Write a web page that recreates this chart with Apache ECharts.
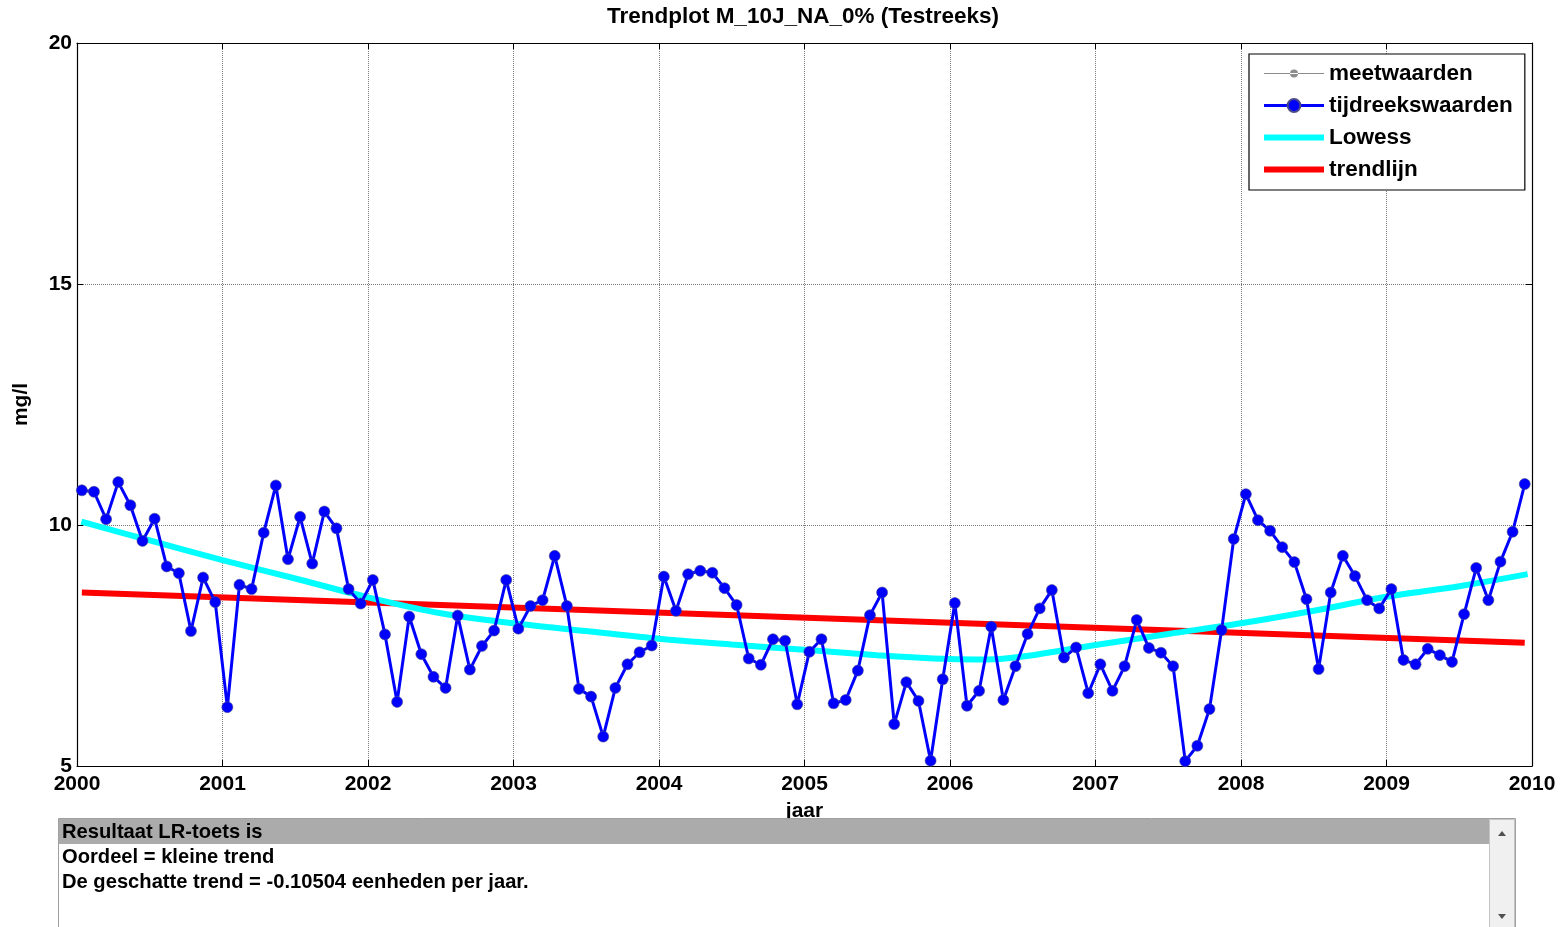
<!DOCTYPE html>
<html>
<head>
<meta charset="utf-8">
<title>Trendplot M_10J_NA_0% (Testreeks)</title>
<script src="https://cdn.jsdelivr.net/npm/echarts@6/dist/echarts.min.js"></script>
<style>
  html, body { margin: 0; padding: 0; background: #ffffff; }
  #chart { width: 1565px; height: 927px; }
</style>
</head>
<body>
<div id="chart"></div>
<script>
// Monthly series, 2000-01 .. 2009-12 (mg/l)
const years = [2000, 2001, 2002, 2003, 2004, 2005, 2006, 2007, 2008, 2009];

const measured = [
  10.72, 10.69, 10.12, 10.89, 10.41, 9.67, 10.13, 9.14, 9.00, 7.80, 8.91, 8.40,   // 2000
  6.22, 8.76, 8.67, 9.84, 10.82, 9.29, 10.17, 9.20, 10.28, 9.93, 8.67, 8.37,      // 2001
  8.86, 7.73, 6.33, 8.10, 7.32, 6.85, 6.62, 8.12, 7.00, 7.49, 7.81, 8.86,         // 2002
  7.85, 8.32, 8.44, 9.36, 8.32, 6.60, 6.44, 5.61, 6.62, 7.11, 7.36, 7.50,         // 2003
  8.93, 8.22, 8.98, 9.05, 9.01, 8.69, 8.34, 7.23, 7.10, 7.63, 7.60, 6.28,         // 2004
  7.37, 7.63, 6.30, 6.37, 6.98, 8.13, 8.60, 5.87, 6.74, 6.35, 5.11, 6.80,         // 2005
  8.38, 6.25, 6.56, 7.89, 6.37, 7.07, 7.74, 8.27, 8.65, 7.25, 7.46, 6.51,         // 2006
  7.11, 6.56, 7.07, 8.03, 7.45, 7.35, 7.07, 5.10, 5.42, 6.18, 7.82, 9.71,         // 2007
  10.64, 10.10, 9.88, 9.54, 9.23, 8.46, 7.01, 8.60, 9.36, 8.94, 8.44, 8.27,       // 2008
  8.67, 7.20, 7.11, 7.43, 7.30, 7.16, 8.15, 9.11, 8.44, 9.24, 9.86, 10.85         // 2009
];

// Time series values equal the measurements in this series
const timeseries = measured.slice();

// Lowess smooth, sampled every half year
const lowessYears = [2000.03, 2000.5, 2001, 2001.5, 2002, 2002.5, 2003, 2003.5, 2004, 2004.5,
                     2005, 2005.5, 2006, 2006.25, 2006.5, 2007, 2007.5, 2008, 2008.5, 2009, 2009.5, 2009.97];
const lowessValues = [10.07, 9.68, 9.27, 8.89, 8.50, 8.17, 7.96, 7.80, 7.64, 7.52,
                      7.41, 7.30, 7.22, 7.21, 7.27, 7.51, 7.74, 7.96, 8.22, 8.51, 8.73, 8.98];

// Linear trend (LR test result)
const trendStart = 8.60;
const trendSlope = -0.10504;   // eenheden per jaar

const xTicks = [2000, 2001, 2002, 2003, 2004, 2005, 2006, 2007, 2008, 2009, 2010];
const yTicks = [5, 10, 15, 20];

const resultLines = [
  'Resultaat LR-toets is',
  'Oordeel = kleine trend',
  'De geschatte trend = -0.10504 eenheden per jaar.'
];

// sampling moment within each month (decimal year)
const monthTimes = [];
years.forEach(function (y) {
  for (let m = 0; m < 12; m++) monthTimes.push(y + (m + 0.4) / 12);
});

const measuredData = measured.map(function (v, i) { return [monthTimes[i], v]; });
const seriesData = timeseries.map(function (v, i) { return [monthTimes[i], v]; });
const lowessData = lowessValues.map(function (v, i) { return [lowessYears[i], v]; });
const t0 = monthTimes[0], t1 = monthTimes[monthTimes.length - 1];
const trendData = [[t0, trendStart], [t1, trendStart + trendSlope * (t1 - t0)]];

const FONT = '"Liberation Sans", Arial, sans-serif';

const chart = echarts.init(document.getElementById('chart'), null, { renderer: 'canvas' });

const axisLineStyle = { color: '#000', width: 1.2 };
const gridLine = { show: true, lineStyle: { color: '#7a7a7a', type: 'dotted', width: 1 } };

// legend glyph for the measurements: thin line with a small dot
const measIcon = 'path://M0,7.5H60V8.5H0Z M26,8a4,4 0 1,0 8,0a4,4 0 1,0 -8,0Z';

// result list rows (narrow bold face)
function resultText(i, y) {
  return {
    type: 'text', x: 62, y: y, z: 103, scaleX: 0.96,
    style: {
      text: resultLines[i], verticalAlign: 'middle',
      fontFamily: FONT, fontWeight: 'bold', fontSize: 21, fill: '#000'
    }
  };
}

const option = {
  animation: false,
  backgroundColor: '#ffffff',
  grid: { left: 77, right: 33, top: 43, bottom: 161, containLabel: false },
  legend: {
    orient: 'vertical',
    left: 1249,
    top: 54,
    padding: [8, 12, 9, 12],
    itemWidth: 60,
    itemHeight: 16,
    itemGap: 9,
    backgroundColor: '#ffffff',
    borderColor: '#000000',
    borderWidth: 1.2,
    borderRadius: 0,
    textStyle: { fontFamily: FONT, fontWeight: 'bold', fontSize: 22.5, color: '#000' },
    selectedMode: false,
    data: [
      { name: 'meetwaarden', icon: measIcon, itemStyle: { color: '#8c8c8c' } },
      { name: 'tijdreekswaarden', lineStyle: { width: 3 } },
      { name: 'Lowess', itemStyle: { opacity: 0 }, lineStyle: { width: 6 } },
      { name: 'trendlijn', itemStyle: { opacity: 0 }, lineStyle: { width: 6 } }
    ]
  },
  xAxis: [
    {
      type: 'value', min: xTicks[0], max: xTicks[xTicks.length - 1], interval: 1,
      position: 'bottom',
      axisLine: { show: true, onZero: false, lineStyle: axisLineStyle },
      axisTick: { show: true, inside: true, length: 6, lineStyle: { color: '#000' } },
      axisLabel: {
        color: '#000', fontFamily: FONT, fontWeight: 'bold', fontSize: 21, margin: 8,
        formatter: function (v) { return String(v); }
      },
      splitLine: gridLine,
      name: 'jaar', nameLocation: 'middle', nameGap: 35,
      nameTextStyle: { color: '#000', fontFamily: FONT, fontWeight: 'bold', fontSize: 21 }
    },
    {
      type: 'value', min: xTicks[0], max: xTicks[xTicks.length - 1], interval: 1,
      position: 'top',
      axisLine: { show: true, onZero: false, lineStyle: axisLineStyle },
      axisTick: { show: true, inside: true, length: 6, lineStyle: { color: '#000' } },
      axisLabel: { show: false },
      splitLine: { show: false }
    }
  ],
  yAxis: [
    {
      type: 'value', min: yTicks[0], max: yTicks[yTicks.length - 1], interval: 5,
      position: 'left',
      axisLine: { show: true, onZero: false, lineStyle: axisLineStyle },
      axisTick: { show: true, inside: true, length: 6, lineStyle: { color: '#000' } },
      axisLabel: { color: '#000', fontFamily: FONT, fontWeight: 'bold', fontSize: 21, margin: 5 },
      splitLine: gridLine,
      name: 'mg/l', nameLocation: 'middle', nameGap: 45, nameRotate: 90,
      nameTextStyle: { color: '#000', fontFamily: FONT, fontWeight: 'bold', fontSize: 21 }
    },
    {
      type: 'value', min: yTicks[0], max: yTicks[yTicks.length - 1], interval: 5,
      position: 'right',
      axisLine: { show: true, onZero: false, lineStyle: axisLineStyle },
      axisTick: { show: true, inside: true, length: 6, lineStyle: { color: '#000' } },
      axisLabel: { show: false },
      splitLine: { show: false }
    }
  ],
  series: [
    {
      name: 'trendlijn', type: 'line', data: trendData,
      symbol: 'none', color: '#ff0000',
      lineStyle: { color: '#ff0000', width: 6 },
      z: 2, silent: true
    },
    {
      name: 'Lowess', type: 'line', data: lowessData,
      symbol: 'none', color: '#00ffff', smooth: 0.3,
      lineStyle: { color: '#00ffff', width: 6 },
      z: 3, silent: true
    },
    {
      name: 'meetwaarden', type: 'line', data: measuredData,
      symbol: 'circle', symbolSize: 6, color: '#8c8c8c',
      lineStyle: { color: '#8c8c8c', width: 1 },
      itemStyle: { color: '#8c8c8c' },
      z: 4, silent: true
    },
    {
      name: 'tijdreekswaarden', type: 'line', data: seriesData,
      symbol: 'circle', symbolSize: 11, color: '#0000ff',
      lineStyle: { color: '#0000ff', width: 3 },
      itemStyle: { color: '#0000ff', borderColor: '#4a4a8a', borderWidth: 0.6 },
      z: 5, silent: true
    }
  ],
  graphic: [
    // title centred over the plot area
    {
      type: 'text', x: 803, y: 17, z: 100,
      style: {
        text: 'Trendplot M_10J_NA_0% (Testreeks)',
        align: 'center', verticalAlign: 'middle',
        fontFamily: FONT, fontWeight: 'bold', fontSize: 22.5, fill: '#000'
      }
    },
    // result list box
    {
      type: 'rect', z: 100,
      shape: { x: 58.5, y: 818.5, width: 1457, height: 130 },
      style: { fill: '#ffffff', stroke: '#a0a0a0', lineWidth: 1 }
    },
    {
      type: 'rect', z: 101,
      shape: { x: 59, y: 819, width: 1430, height: 25 },
      style: { fill: '#ababab' }
    },
    {
      type: 'rect', z: 101,
      shape: { x: 1489.5, y: 819.5, width: 25, height: 120 },
      style: { fill: '#f0f0f0', stroke: '#c4c4c4', lineWidth: 1 }
    },
    {
      type: 'polygon', z: 102,
      shape: { points: [[1498, 836], [1506, 836], [1502, 831]] },
      style: { fill: '#505050' }
    },
    {
      type: 'polygon', z: 102,
      shape: { points: [[1498, 914], [1506, 914], [1502, 919]] },
      style: { fill: '#505050' }
    },
    resultText(0, 832),
    resultText(1, 857),
    resultText(2, 882)
  ]
};

chart.setOption(option);
</script>
</body>
</html>
